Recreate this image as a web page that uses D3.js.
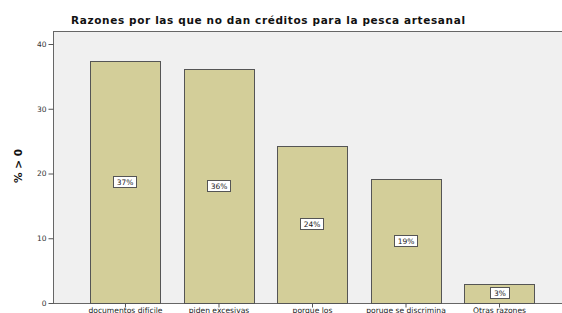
<!DOCTYPE html>
<html>
<head>
<meta charset="utf-8">
<script src="https://cdn.jsdelivr.net/npm/d3@7"></script>
<style>
  body { margin: 0; background: #fff; }
  text { font-family: "DejaVu Sans", Verdana, sans-serif; }
</style>
</head>
<body>
<script>
var categories = ["documentos difícile", "piden excesivas", "porque los", "poruqe se discrimina", "Otras razones"];
var values = [37.4, 36.2, 24.3, 19.1, 3.0];
var labels = ["37%", "36%", "24%", "19%", "3%"];
var yTicks = [0, 10, 20, 30, 40];

var width = 562,
    height = 313;

var svg = d3.select("body").append("svg")
    .attr("width", width)
    .attr("height", height);

var plotLeft = 53, plotTop = 31, plotBottom = 303, plotRight = 572;

var x = d3.scaleBand()
    .domain(categories)
    .range([plotLeft, plotRight])
    .paddingInner(0.25)
    .paddingOuter(0.4);

var y = d3.scaleLinear()
    .domain([0, 40])
    .range([plotBottom, 44]);

// plot background
svg.append("rect")
    .attr("x", plotLeft + 0.5)
    .attr("y", plotTop + 0.5)
    .attr("width", plotRight - plotLeft)
    .attr("height", plotBottom - plotTop)
    .attr("fill", "#f0f0f0")
    .attr("stroke", "#666")
    .attr("stroke-width", 1);

svg.append("text")
    .attr("x", 268)
    .attr("y", 24)
    .attr("text-anchor", "middle")
    .attr("font-size", 10.5)
    .attr("font-weight", "bold")
    .attr("fill", "#111")
    .attr("textLength", 394)
    .attr("lengthAdjust", "spacing")
    .text("Razones por las que no dan créditos para la pesca artesanal");

var bars = svg.append("g").selectAll(".bar")
    .data(values)
  .enter().append("rect")
    .attr("class", "bar")
    .attr("x", function(d, i) { return Math.round(x(categories[i])) + 0.5; })
    .attr("y", function(d) { return Math.round(y(d)) + 0.5; })
    .attr("width", Math.round(x.bandwidth()))
    .attr("height", function(d) { return plotBottom - Math.round(y(d)); })
    .attr("fill", "#d3ce99")
    .attr("stroke", "#555")
    .attr("stroke-width", 1);

var lab = svg.append("g").selectAll(".lab")
    .data(values)
  .enter().append("g")
    .attr("transform", function(d, i) {
      return "translate(" + Math.round(x(categories[i]) + x.bandwidth() / 2) + "," + Math.round((y(d) + plotBottom) / 2) + ")";
    });

lab.append("rect")
    .attr("x", function(d, i) { return labels[i].length > 2 ? -11.5 : -9.5; })
    .attr("y", -5.5)
    .attr("width", function(d, i) { return labels[i].length > 2 ? 23 : 19; })
    .attr("height", 11)
    .attr("fill", "#fff")
    .attr("stroke", "#555")
    .attr("stroke-width", 1);

lab.append("text")
    .attr("text-anchor", "middle")
    .attr("y", 3)
    .attr("font-size", 7.5)
    .attr("fill", "#222")
    .text(function(d, i) { return labels[i]; });

// y axis
var yAxis = svg.append("g")
    .attr("transform", "translate(" + (plotLeft + 0.5) + ",0)")
    .call(d3.axisLeft(y).tickValues(yTicks).tickSize(5).tickPadding(2));
yAxis.select(".domain").remove();
yAxis.selectAll("line").attr("stroke", "#555");
yAxis.selectAll("text").attr("font-size", 7.5).attr("fill", "#333")
    .attr("font-family", "'DejaVu Sans', Verdana, sans-serif");

// x axis
var xAxis = svg.append("g")
    .attr("transform", "translate(0," + (plotBottom + 0.5) + ")")
    .call(d3.axisBottom(x).tickSize(4).tickPadding(0));
xAxis.select(".domain").remove();
xAxis.selectAll("line").attr("stroke", "#555");
xAxis.selectAll("text").attr("font-size", 7.6).attr("fill", "#222")
    .attr("font-family", "'DejaVu Sans', Verdana, sans-serif");

svg.append("text")
    .attr("transform", "translate(22,166) rotate(-90)")
    .attr("text-anchor", "middle")
    .attr("font-family", "Arial, 'Liberation Sans', sans-serif")
    .attr("font-size", 10.5)
    .attr("font-weight", "bold")
    .attr("fill", "#111")
    .text("% > 0");
</script>
</body>
</html>
